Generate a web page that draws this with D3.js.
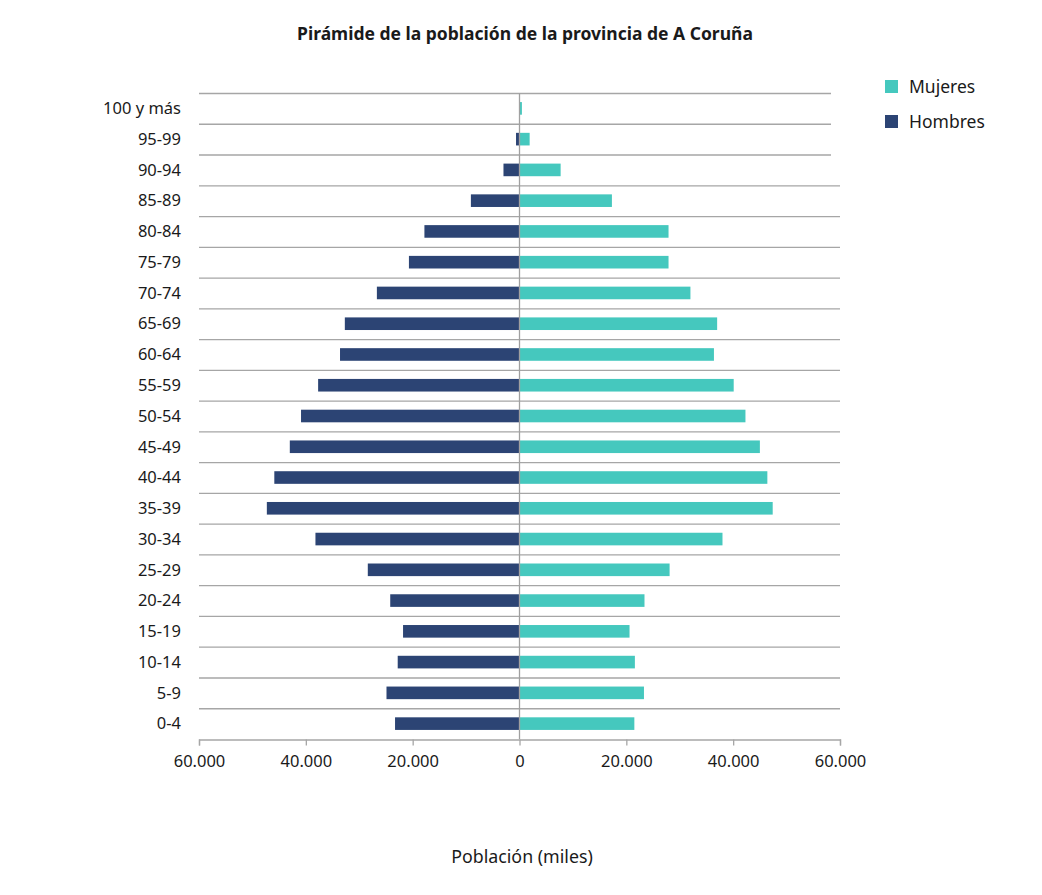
<!DOCTYPE html>
<html><head><meta charset="utf-8">
<script src="https://cdn.jsdelivr.net/npm/d3@7"></script>
<style>body{margin:0;background:#fff;} text{font-family:"Noto Sans","Open Sans",sans-serif;fill:#1a1a1a;}</style>
</head><body>
<svg id="c" width="1042" height="895"></svg>
<script>
const categories = ["100 y más","95-99","90-94","85-89","80-84","75-79","70-74","65-69","60-64","55-59","50-54","45-49","40-44","35-39","30-34","25-29","20-24","15-19","10-14","5-9","0-4"];
const hombres = [0,650,3000,9100,17800,20700,26700,32700,33600,37700,40900,43000,45900,47300,38200,28400,24200,21800,22800,24900,23300];
const mujeres = [450,1900,7700,17300,27900,27900,32000,37000,36400,40100,42300,45000,46400,47400,38000,28100,23400,20600,21600,23300,21500];
const ticks = [-60000,-40000,-20000,0,20000,40000,60000];
const seriesNames = ["Mujeres","Hombres"];
const colors = {Mujeres:"#45c8be", Hombres:"#2c4474"};

const svg = d3.select("#c");
const x = d3.scaleLinear().domain([-60000,60000]).range([199,840]);
const y = d3.scaleBand().domain(categories).range([93,739]).paddingInner(0.59).paddingOuter(0.295);
const yGrid = d3.scaleBand().domain(categories).range([93,739]);

svg.append("text").attr("x",525).attr("y",40).attr("text-anchor","middle")
  .style("font-size","17.5px").style("font-weight","bold").text("Pirámide de la población de la provincia de A Coruña");

// gridlines (top boundaries of each band)
svg.append("g").selectAll("line").data(categories).join("line")
  .attr("x1",199).attr("x2",(d,i)=> i<3 ? 831 : 840)
  .attr("y1",d=>yGrid(d)+0.5).attr("y2",d=>yGrid(d)+0.5)
  .attr("stroke","#a6a6a6").attr("stroke-width",1.3);

// bars
svg.append("g").selectAll("rect").data(categories).join("rect")
  .attr("x",(d,i)=>x(-hombres[i])).attr("width",(d,i)=>x(0)-x(-hombres[i]))
  .attr("y",d=>y(d)).attr("height",y.bandwidth()).attr("fill",colors.Hombres);
svg.append("g").selectAll("rect").data(categories).join("rect")
  .attr("x",x(0)).attr("width",(d,i)=>x(mujeres[i])-x(0))
  .attr("y",d=>y(d)).attr("height",y.bandwidth()).attr("fill",colors.Mujeres);

// zero line
svg.append("line").attr("x1",x(0)).attr("x2",x(0)).attr("y1",93).attr("y2",739)
  .attr("stroke","#a0a0a0").attr("stroke-width",1.3);

// category labels
svg.append("g").selectAll("text").data(categories).join("text")
  .attr("x",181).attr("y",d=>yGrid(d)+yGrid.bandwidth()/2).attr("dy","0.35em")
  .attr("text-anchor","end").style("font-size","16.5px").text(d=>d);

// x axis
const fmt = v => d3.format(",")(Math.abs(v)).replace(/,/g,".");
const ax = svg.append("g").attr("transform","translate(0,739.5)")
  .call(d3.axisBottom(x).tickValues(ticks).tickFormat(fmt).tickSize(6).tickPadding(10));
ax.select(".domain").attr("stroke","#a6a6a6").attr("stroke-width",1.3);
ax.selectAll(".tick line").attr("stroke","#a6a6a6").attr("stroke-width",1.3);
ax.selectAll(".tick text").style("font-size","16.5px").style("font-family","'Noto Sans','Open Sans',sans-serif").attr("fill","#1a1a1a");

svg.append("text").attr("x",522).attr("y",863).attr("text-anchor","middle")
  .style("font-size","17.8px").text("Población (miles)");

// legend
const lg = svg.append("g").selectAll("g").data(seriesNames).join("g")
  .attr("transform",(d,i)=>`translate(885,${80+i*35})`);
lg.append("rect").attr("width",13).attr("height",13).attr("fill",d=>colors[d]);
lg.append("text").attr("x",24).attr("y",6.5).attr("dy","0.35em").style("font-size","17.5px").attr("fill","#333").text(d=>d);
</script>
</body></html>
